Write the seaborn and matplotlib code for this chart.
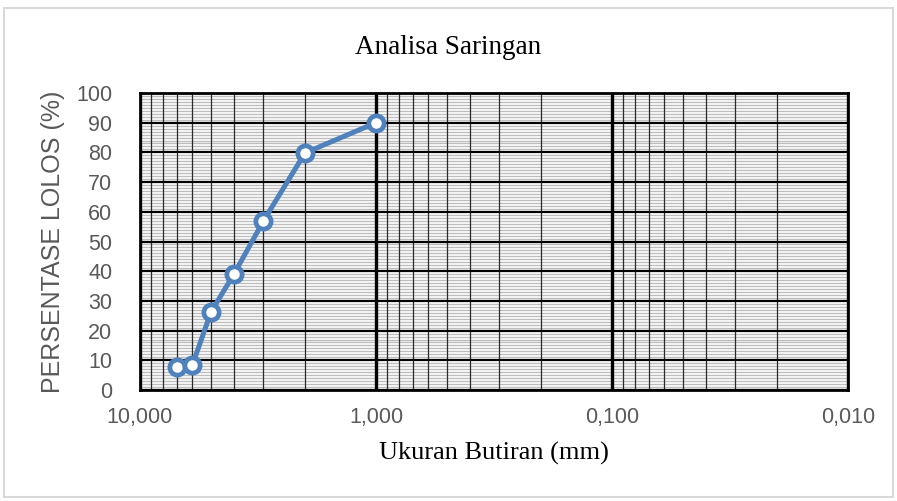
import matplotlib
matplotlib.use("Agg")
import matplotlib.pyplot as plt
import matplotlib.ticker as mticker
from matplotlib.patches import Rectangle
import numpy as np
import pandas as pd
import seaborn as sns

# Data
ukuran_mm = [7.0, 6.0, 5.0, 4.0, 3.0, 2.0, 1.0]
persen_lolos = [7.7, 8.4, 26.3, 39.0, 56.9, 79.8, 90.0]
x_ticks = [10, 1, 0.1, 0.01]
x_tick_labels = ["10,000", "1,000", "0,100", "0,010"]
y_ticks = list(range(0, 101, 10))

sns.set_style("white")
plt.rcParams["font.family"] = ["Liberation Sans", "DejaVu Sans"]

df = pd.DataFrame({"ukuran": ukuran_mm, "lolos": persen_lolos})

fig = plt.figure(figsize=(8.97, 5.01), dpi=100)
ax = fig.add_axes([140 / 897, 1 - 390 / 501, (848 - 140) / 897, (390 - 93) / 501])

# outer chart border
fig.patches.append(Rectangle((4 / 897, 4 / 501), 1 - 8 / 897, 1 - 12 / 501,
                             transform=fig.transFigure, fill=False,
                             edgecolor="#d9d9d9", linewidth=1.5, zorder=0))

ax.set_xscale("log")
ax.set_xlim(10, 0.01)
ax.set_ylim(0, 100)

# grid
ax.yaxis.set_major_locator(mticker.FixedLocator(y_ticks))
ax.xaxis.set_major_locator(mticker.FixedLocator(x_ticks))
ax.xaxis.set_minor_locator(mticker.LogLocator(base=10, subs=np.arange(2, 10)))
ax.xaxis.set_minor_formatter(mticker.NullFormatter())
# minor horizontal grid (gray) drawn beneath everything else
for yv in range(1, 100):
    if yv % 10:
        ax.axhline(yv, color="#bdbdbd", linewidth=1.0, zorder=0.5)
ax.grid(which="major", axis="y", color="black", linewidth=1.6)
ax.grid(which="minor", axis="x", color="#2a2a2a", linewidth=0.9)
ax.grid(which="major", axis="x", color="black", linewidth=2.4)
for t in ax.xaxis.get_minor_ticks() + ax.xaxis.get_major_ticks() + ax.yaxis.get_major_ticks():
    t.gridline.set_zorder(1)

sns.lineplot(data=df, x="ukuran", y="lolos", ax=ax, sort=False,
             color="#4f81bd", linewidth=3.6, marker="o", markersize=11,
             markerfacecolor="white", markeredgecolor="#4f81bd",
             markeredgewidth=3.4, zorder=5)

ax.set_xticks(x_ticks)
ax.set_xticklabels(x_tick_labels)
ax.set_yticks(y_ticks)
ax.tick_params(axis="both", which="both", length=0, labelsize=15.5,
               labelcolor="#595959")
ax.tick_params(axis="y", pad=20)
ax.tick_params(axis="x", pad=12)

for s in ax.spines.values():
    s.set_visible(True)
    s.set_color("black")
    s.set_linewidth(2)
    s.set_zorder(3)

ax.set_xlabel("Ukuran Butiran (mm)", family=["Liberation Serif", "DejaVu Serif"],
              fontsize=19, color="black", labelpad=10)
ax.set_ylabel("PERSENTASE LOLOS (%)", fontsize=18, color="#595959", labelpad=8)
fig.text(0.5, 1 - 47 / 501, "Analisa Saringan",
         family=["Liberation Serif", "DejaVu Serif"], fontsize=19.5,
         ha="center", va="center", color="black")

fig.savefig("out.png", dpi=100, facecolor="white")
